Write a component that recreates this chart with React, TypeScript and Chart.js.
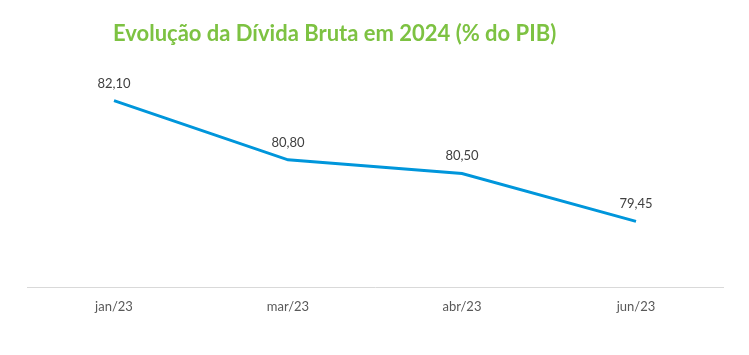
import React, { useEffect, useRef } from "react";
import { Chart, registerables } from "chart.js";

Chart.register(...registerables);

const TITLE = "Evolução da Dívida Bruta em 2024 (% do PIB)";
const categories = ["jan/23", "mar/23", "abr/23", "jun/23"];
const divida = [82.1, 80.8, 80.5, 79.45];

const fmt = (v: number) => v.toFixed(2).replace(".", ",");

const titlePlugin = {
  id: "customTitle",
  afterDraw(chart: any) {
    const ctx = chart.ctx;
    ctx.save();
    ctx.font = "bold 22px Lato";
    ctx.fillStyle = "#7DC242";
    ctx.textBaseline = "alphabetic";
    ctx.textAlign = "left";
    ctx.fillText(TITLE, 113, 41);
    ctx.restore();
  },
};

const labelPlugin = {
  id: "pointLabels",
  afterDatasetsDraw(chart: any) {
    const ctx = chart.ctx;
    const meta = chart.getDatasetMeta(0);
    ctx.save();
    ctx.font = "13px Lato";
    ctx.fillStyle = "#404040";
    ctx.textAlign = "center";
    ctx.textBaseline = "alphabetic";
    meta.data.forEach((pt: any, i: number) => {
      ctx.fillText(fmt(divida[i]), pt.x, pt.y - 13);
    });
    ctx.restore();
  },
};

export default function App() {
  const ref = useRef<HTMLCanvasElement>(null);
  useEffect(() => {
    if (!ref.current) return;
    const chart = new Chart(ref.current, {
      type: "line",
      data: {
        labels: categories,
        datasets: [
          {
            data: divida,
            borderColor: "#0096DB",
            borderWidth: 3,
            pointRadius: 0,
            tension: 0,
            fill: false,
          },
        ],
      },
      options: {
        animation: false,
        responsive: false,
        maintainAspectRatio: false,
        layout: { padding: { left: 27, right: 26, top: 14, bottom: 28 } },
        plugins: { legend: { display: false }, tooltip: { enabled: false }, title: { display: false } },
        scales: {
          x: {
            offset: true,
            grid: { display: false, drawTicks: false },
            border: { display: true, color: "#D9D9D9", width: 1 },
            ticks: { color: "#595959", font: { family: "Lato", size: 13 }, padding: 12, maxRotation: 0 },
          },
          y: {
            display: false,
            min: 78,
            max: 84,
          },
        },
      },
      plugins: [titlePlugin, labelPlugin],
    });
    return () => chart.destroy();
  }, []);
  return (
    <div style={{ position: "absolute", left: 0, top: 0, width: 749, height: 355, background: "#fff" }}>
      <canvas ref={ref} width={749} height={355} style={{ width: 749, height: 355 }} />
    </div>
  );
}
